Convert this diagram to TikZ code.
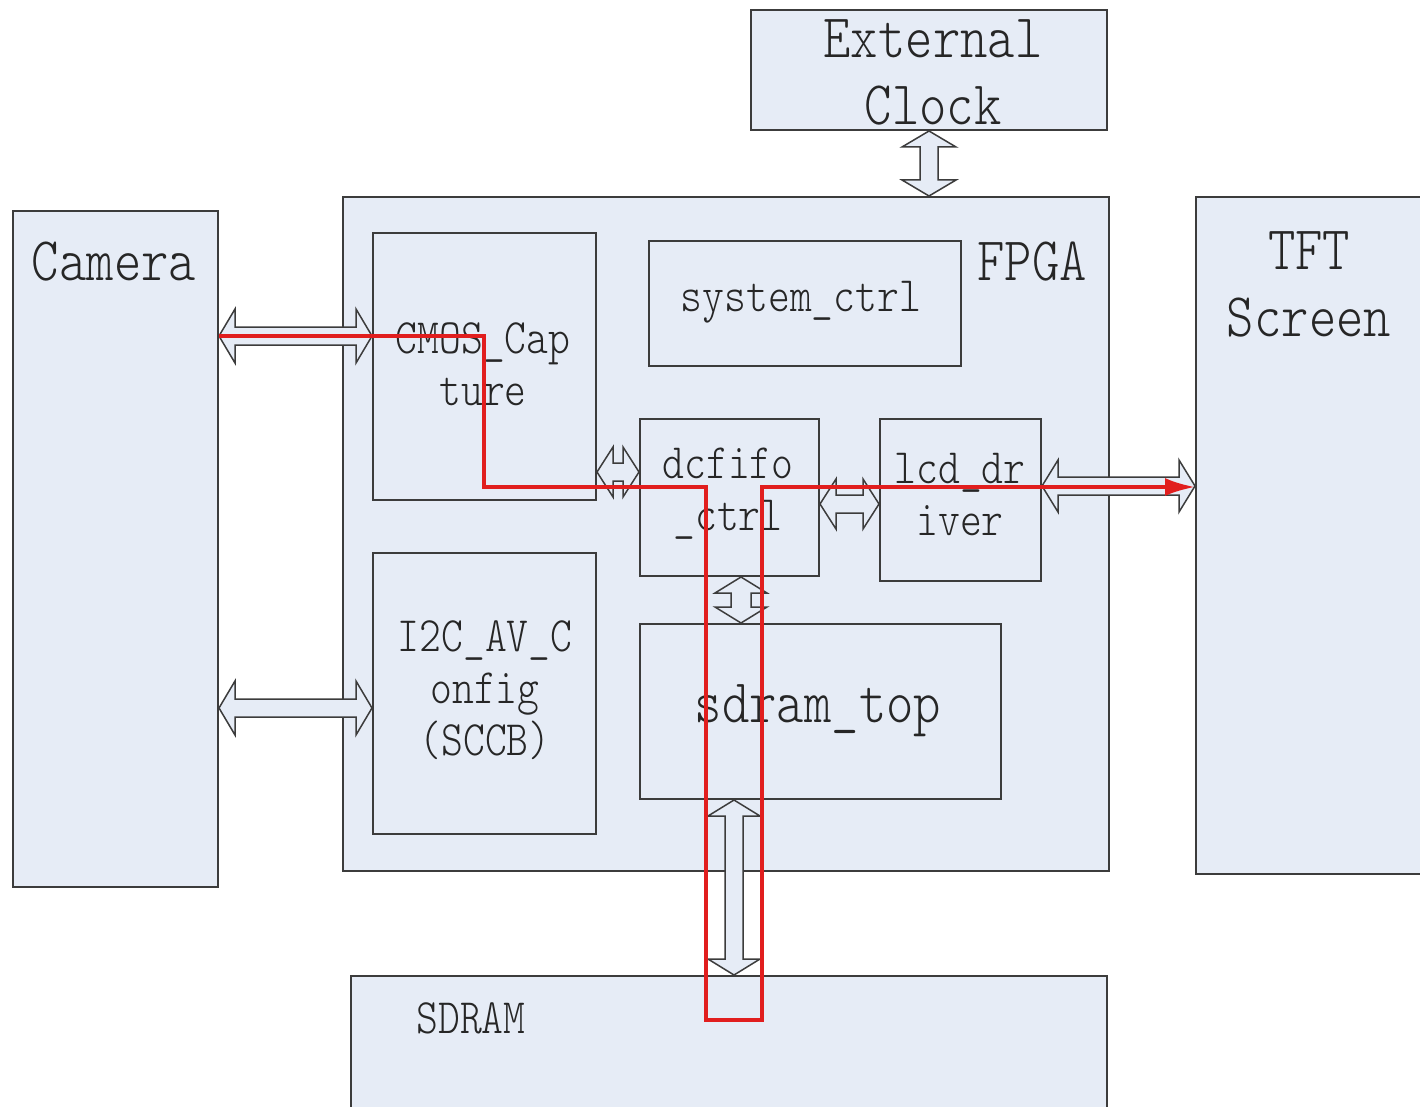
\documentclass[tikz,border=0pt]{standalone}
\usepackage{fontspec}
\setmainfont{Liberation Serif}
\newfontfamily\lblfont[FakeStretch=0.84]{Latin Modern Mono Light}
\usetikzlibrary{calc,arrows.meta}
\definecolor{boxfill}{RGB}{230,236,246}
\definecolor{edge}{RGB}{60,60,60}
\definecolor{redpath}{RGB}{225,30,30}
\newcommand{\HArr}[4]{%
  \draw[blk] let \p1=(#1), \p2=(#2) in
    (\x1,\y1) -- (\x1+16pt,\y1+#3) -- (\x1+16pt,\y1+#4) -- (\x2-16pt,\y1+#4) -- (\x2-16pt,\y1+#3)
    -- (\x2,\y1) -- (\x2-16pt,\y1-#3) -- (\x2-16pt,\y1-#4) -- (\x1+16pt,\y1-#4) -- (\x1+16pt,\y1-#3) -- cycle;}
\newcommand{\VArr}[4]{%
  \draw[blk] let \p1=(#1), \p2=(#2) in
    (\x1,\y1) -- (\x1+#3,\y1-16pt) -- (\x1+#4,\y1-16pt) -- (\x1+#4,\y2+16pt) -- (\x1+#3,\y2+16pt)
    -- (\x1,\y2) -- (\x1-#3,\y2+16pt) -- (\x1-#4,\y2+16pt) -- (\x1-#4,\y1-16pt) -- (\x1-#3,\y1-16pt) -- cycle;}
\begin{document}
\begin{tikzpicture}[x=1pt,y=-1pt,
  box/.style={draw=edge,line width=2pt,fill=boxfill,rectangle,inner sep=0pt,anchor=north west},
  blk/.style={draw=edge,line width=1.5pt,fill=boxfill,line join=miter},
  bigtxt/.style={font=\lblfont\fontsize{62}{67}\selectfont,align=center,inner sep=0pt,text=black!85},
  smalltxt/.style={font=\lblfont\fontsize{49.5}{52}\selectfont,align=center,inner sep=0pt,text=black!85},
  redp/.style={draw=redpath,line width=3.5pt,-{Latex[length=30pt,width=18pt]}}]
\useasboundingbox (0,0) rectangle (1420,1107);
\fill[white] (0,0) rectangle (1420,1107);
% boxes
\node[box,minimum width=356,minimum height=120] (clk) at (750,9) {};
\node[box,minimum width=766,minimum height=674] (fpga) at (342,196) {};
\node[box,minimum width=205,minimum height=676] (cam) at (12,210) {};
\node[box,minimum width=240,minimum height=677] (tft) at (1195,196) {};
\node[box,minimum width=223,minimum height=267] (cmos) at (372,232) {};
\node[box,minimum width=312,minimum height=125] (sys) at (648,240) {};
\node[box,minimum width=179,minimum height=157] (fifo) at (639,418) {};
\node[box,minimum width=161,minimum height=162] (lcd) at (879,418) {};
\node[box,minimum width=223,minimum height=281] (i2c) at (372,552) {};
\node[box,minimum width=361,minimum height=175] (sdt) at (639,623) {};
\node[box,minimum width=756,minimum height=150] (sdram) at (350,975) {};
% double arrows
\VArr{clk.south}{clk.south |- fpga.north}{27pt}{9pt}
\HArr{cam.east |- 0,336}{cmos.west}{27pt}{9pt}
\HArr{cam.east |- 0,708}{i2c.west}{27pt}{9pt}
\HArr{cmos.east |- 0,472}{fifo.west}{25pt}{9pt}
\HArr{fifo.east |- 0,504}{lcd.west}{25pt}{9pt}
\HArr{lcd.east |- 0,486}{tft.west}{26pt}{9pt}
\VArr{fifo.south -| 741,0}{sdt.north}{26pt}{10pt}
\VArr{sdt.south -| 734,0}{sdram.north}{26pt}{9pt}
% texts
\node[bigtxt] (clkt) at (933,72) {External\\Clock};
\node[bigtxt] (camt) at (114,262) {Camera};
\node[bigtxt] (fpgat) at (1032,262) {FPGA};
\node[bigtxt] (tftt) at (1309,284) {TFT\\Screen};
\node[smalltxt] (cmost) at (483,364) {CMOS\_Cap\\ture};
\node[smalltxt] (syst) at (801,302) {system\_ctrl};
\node[smalltxt] (fifot) at (728,494) {dcfifo\\\_ctrl};
\node[smalltxt] (lcdt) at (960,495) {lcd\_dr\\iver};
\node[smalltxt] (i2ct) at (485,690) {I2C\_AV\_C\\onfig\\(SCCB)};
\node[bigtxt] (sdtt) at (818,711) {sdram\_top};
\node[smalltxt] (sdramt) at (471,1018) {SDRAM};
% red data path
\coordinate (r1) at (484,336);
\coordinate (r2) at (484,487);
\coordinate (r3) at (706,487);
\coordinate (r4) at (706,1020);
\coordinate (r5) at (762,1020);
\coordinate (r6) at (762,487);
\draw[redp] (cam.east |- r1) -- (r1) -- (r2) -- (r3) -- (r4) -- (r5) -- (r6) -- (tft.west |- r6);
\end{tikzpicture}
\end{document}
